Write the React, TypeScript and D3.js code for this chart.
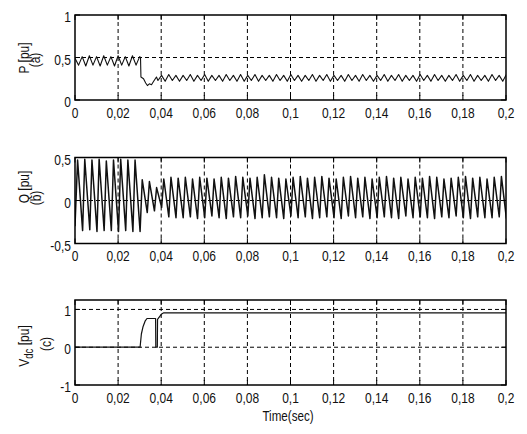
import React from "react";
import * as d3 from "d3";

// ---------- data ----------
const xTicks = [0, 0.02, 0.04, 0.06, 0.08, 0.1, 0.12, 0.14, 0.16, 0.18, 0.2];
const pTicks = [0, 0.5, 1];
const qTicks = [-0.5, 0, 0.5];
const vTicks = [-1, 0, 1];

// P: ripple at half-period samples (1/600 s) before the event
const halfPeriod = 1 / 600;
const pSeg1Start = 0;
const pSeg1 = [0.49, 0.41, 0.51, 0.40, 0.52, 0.41, 0.51, 0.40, 0.52, 0.41, 0.51, 0.40, 0.52, 0.41, 0.51, 0.40, 0.52, 0.41, 0.51];
// P: transient
const pTransT = [0.0304, 0.0306, 0.0318, 0.0328, 0.0336, 0.0345, 0.0355, 0.0365, 0.0378];
const pTransV = [0.50, 0.27, 0.25, 0.20, 0.17, 0.19, 0.18, 0.22, 0.27];
// P: ripple after the event
const pSeg2Start = 0.0385;
const pSeg2 = [
  0.23, 0.29, 0.22, 0.30, 0.23, 0.29, 0.22, 0.29, 0.23, 0.30, 0.22, 0.29, 0.23, 0.30, 0.22, 0.29, 0.23, 0.29, 0.22, 0.30,
  0.23, 0.29, 0.22, 0.30, 0.22, 0.29, 0.23, 0.30, 0.22, 0.29, 0.23, 0.29, 0.22, 0.30, 0.23, 0.29, 0.22, 0.30, 0.23, 0.29,
  0.22, 0.29, 0.23, 0.30, 0.22, 0.29, 0.23, 0.30, 0.22, 0.29, 0.23, 0.29, 0.22, 0.30, 0.23, 0.29, 0.22, 0.30, 0.23, 0.29,
  0.22, 0.29, 0.23, 0.30, 0.22, 0.29, 0.23, 0.30, 0.22, 0.29, 0.23, 0.29, 0.22, 0.30, 0.23, 0.29, 0.22, 0.30, 0.23, 0.29,
  0.22, 0.29, 0.23, 0.30, 0.22, 0.29, 0.23, 0.30, 0.22, 0.29, 0.23, 0.29, 0.22, 0.30, 0.23, 0.29, 0.22, 0.30,
];

// Q: one peak and one trough per ripple period (300 Hz)
const qPeriod = 1 / 300;
const qFirstPeak = 0.0012;
const qStart = -0.3;
const qPeaks = [
  0.47, 0.48, 0.47, 0.48, 0.46, 0.47, 0.48, 0.47, 0.47,
  0.24, 0.22, 0.15, 0.25, 0.27,
  0.26, 0.27, 0.25, 0.27, 0.26, 0.25, 0.27, 0.26, 0.28, 0.27,
  0.26, 0.27, 0.30, 0.27, 0.26, 0.25, 0.27, 0.28, 0.26, 0.27,
  0.28, 0.26, 0.25, 0.27, 0.28, 0.26, 0.27, 0.25, 0.27, 0.28,
  0.26, 0.27, 0.25, 0.27, 0.26, 0.28, 0.27, 0.25, 0.26, 0.27,
  0.28, 0.26, 0.27, 0.25, 0.27, 0.28,
];
const qTroughs = [
  -0.35, -0.34, -0.36, -0.35, -0.35, -0.36, -0.35, -0.36, -0.36,
  -0.14, -0.12, -0.08, -0.19, -0.20,
  -0.20, -0.19, -0.21, -0.20, -0.18, -0.20, -0.21, -0.19, -0.20, -0.18,
  -0.21, -0.20, -0.19, -0.20, -0.21, -0.18, -0.20, -0.19, -0.21, -0.20,
  -0.19, -0.20, -0.21, -0.18, -0.20, -0.19, -0.21, -0.20, -0.19, -0.20,
  -0.21, -0.18, -0.20, -0.19, -0.20, -0.21, -0.19, -0.20, -0.18, -0.20,
  -0.21, -0.19, -0.20, -0.20, -0.19, -0.21,
];

// Vdc
const vdcT = [0, 0.0302, 0.0308, 0.0316, 0.0326, 0.0334, 0.0374, 0.0375, 0.0382, 0.0383, 0.0402, 0.0412, 0.2];
const vdcV = [0, 0, 0.35, 0.55, 0.70, 0.76, 0.76, 0, 0, 0.74, 0.88, 0.91, 0.91];

// ---------- layout ----------
const W = 527;
const H = 434;
const LEFT = 75;
const RIGHT = 506;
const FONT = "'Liberation Sans', Arial, sans-serif";
const SX = 0.8;

const x = d3.scaleLinear().domain([0, 0.2]).range([LEFT, RIGHT]);

type Pt = [number, number];

function buildP(): Pt[] {
  const pts: Pt[] = [];
  pSeg1.forEach((v, i) => pts.push([pSeg1Start + i * halfPeriod, v]));
  pTransT.forEach((t, i) => pts.push([t, pTransV[i]]));
  pSeg2.forEach((v, i) => pts.push([pSeg2Start + i * halfPeriod, v]));
  return pts;
}

function buildQ(): Pt[] {
  const pts: Pt[] = [[0, qStart]];
  qPeaks.forEach((v, k) => {
    const tp = qFirstPeak + k * qPeriod;
    pts.push([tp, v]);
    pts.push([tp + 0.7 * qPeriod, qTroughs[k]]);
  });
  return pts;
}

function buildV(): Pt[] {
  return vdcT.map((t, i) => [t, vdcV[i]] as Pt);
}

const fmt = (v: number) => String(+v.toFixed(2)).replace(".", ",");

function Txt(props: { x: number; y: number; anchor?: string; rot?: boolean; size?: number; children: React.ReactNode }) {
  const { x: tx, y: ty, anchor = "middle", rot = false, size = 15, children } = props;
  return (
    <text
      transform={`translate(${tx},${ty})${rot ? " rotate(-90)" : ""} scale(${SX},1)`}
      textAnchor={anchor}
      fontSize={size}
      fontFamily={FONT}
      fill="#111"
    >
      {children}
    </text>
  );
}

interface PanelProps {
  id: string;
  top: number;
  bottom: number;
  domain: [number, number];
  yTicks: number[];
  yGrid: number[];
  data: Pt[];
  strokeWidth: number;
}

function Panel({ id, top, bottom, domain, yTicks, yGrid, data, strokeWidth }: PanelProps) {
  const y = d3.scaleLinear().domain(domain).range([bottom, top]);
  const line = d3
    .line<Pt>()
    .x((d) => x(d[0]))
    .y((d) => y(d[1]));
  const tickLen = 5;
  return (
    <g>
      <defs>
        <clipPath id={id}>
          <rect x={LEFT} y={top} width={RIGHT - LEFT} height={bottom - top} />
        </clipPath>
      </defs>
      <rect x={LEFT} y={top} width={RIGHT - LEFT} height={bottom - top} fill="#fff" />
      {xTicks.slice(1, -1).map((t) => (
        <line key={"gx" + t} x1={x(t)} x2={x(t)} y1={top} y2={bottom} stroke="#000" strokeWidth={1} strokeDasharray="4,3" />
      ))}
      {yGrid.map((v) => (
        <line key={"gy" + v} x1={LEFT} x2={RIGHT} y1={y(v)} y2={y(v)} stroke="#000" strokeWidth={1} strokeDasharray="4,3" />
      ))}
      <path d={line(data) || ""} fill="none" stroke="#111" strokeWidth={strokeWidth} strokeLinejoin="round" clipPath={`url(#${id})`} />
      {xTicks.map((t) => (
        <g key={"tx" + t}>
          <line x1={x(t)} x2={x(t)} y1={bottom} y2={bottom - tickLen} stroke="#000" strokeWidth={1} />
          <line x1={x(t)} x2={x(t)} y1={top} y2={top + tickLen} stroke="#000" strokeWidth={1} />
        </g>
      ))}
      {yTicks.map((v) => (
        <g key={"ty" + v}>
          <line x1={LEFT} x2={LEFT + tickLen} y1={y(v)} y2={y(v)} stroke="#000" strokeWidth={1} />
          <line x1={RIGHT} x2={RIGHT - tickLen} y1={y(v)} y2={y(v)} stroke="#000" strokeWidth={1} />
        </g>
      ))}
      <rect x={LEFT} y={top} width={RIGHT - LEFT} height={bottom - top} fill="none" stroke="#000" strokeWidth={1.5} />
      {xTicks.map((t) => (
        <Txt key={"lx" + t} x={x(t)} y={bottom + 17.5}>
          {fmt(t)}
        </Txt>
      ))}
      {yTicks.map((v) => (
        <Txt key={"ly" + v} x={LEFT - 4} y={y(v) + 7} anchor="end">
          {fmt(v)}
        </Txt>
      ))}
    </g>
  );
}

export default function App() {
  const pData = buildP();
  const qData = buildQ();
  const vData = buildV();
  return (
    <svg width={W} height={H} style={{ position: "absolute", left: 0, top: 0, background: "#fff" }}>
      <rect x={0} y={0} width={W} height={H} fill="#fff" />
      <Panel id="cp1" top={15} bottom={100} domain={[0, 1]} yTicks={pTicks} yGrid={[0.5]} data={pData} strokeWidth={1.1} />
      <Panel id="cp2" top={157.5} bottom={243.5} domain={[-0.5, 0.5]} yTicks={qTicks} yGrid={[0]} data={qData} strokeWidth={1.5} />
      <Panel id="cp3" top={300} bottom={385} domain={[-1, 1.25]} yTicks={vTicks} yGrid={[0, 1]} data={vData} strokeWidth={1.2} />

      <Txt x={28.5} y={58} rot size={15}>P [pu]</Txt>
      <Txt x={40} y={60} rot size={15}>(a)</Txt>

      <Txt x={28.5} y={187} rot size={15}>Q [pu]</Txt>
      <Txt x={40.5} y={198} rot size={15}>(b)</Txt>

      <text transform={`translate(28.5,346) rotate(-90) scale(${SX},1)`} textAnchor="middle" fontSize={15} fontFamily={FONT} fill="#111">
        V<tspan fontSize={12} dy={4}>dc</tspan>
        <tspan dy={-4}> [pu]</tspan>
      </text>
      <Txt x={51} y={344} rot size={15}>(c)</Txt>

      <Txt x={288} y={421} size={14.5}>Time(sec)</Txt>
    </svg>
  );
}
